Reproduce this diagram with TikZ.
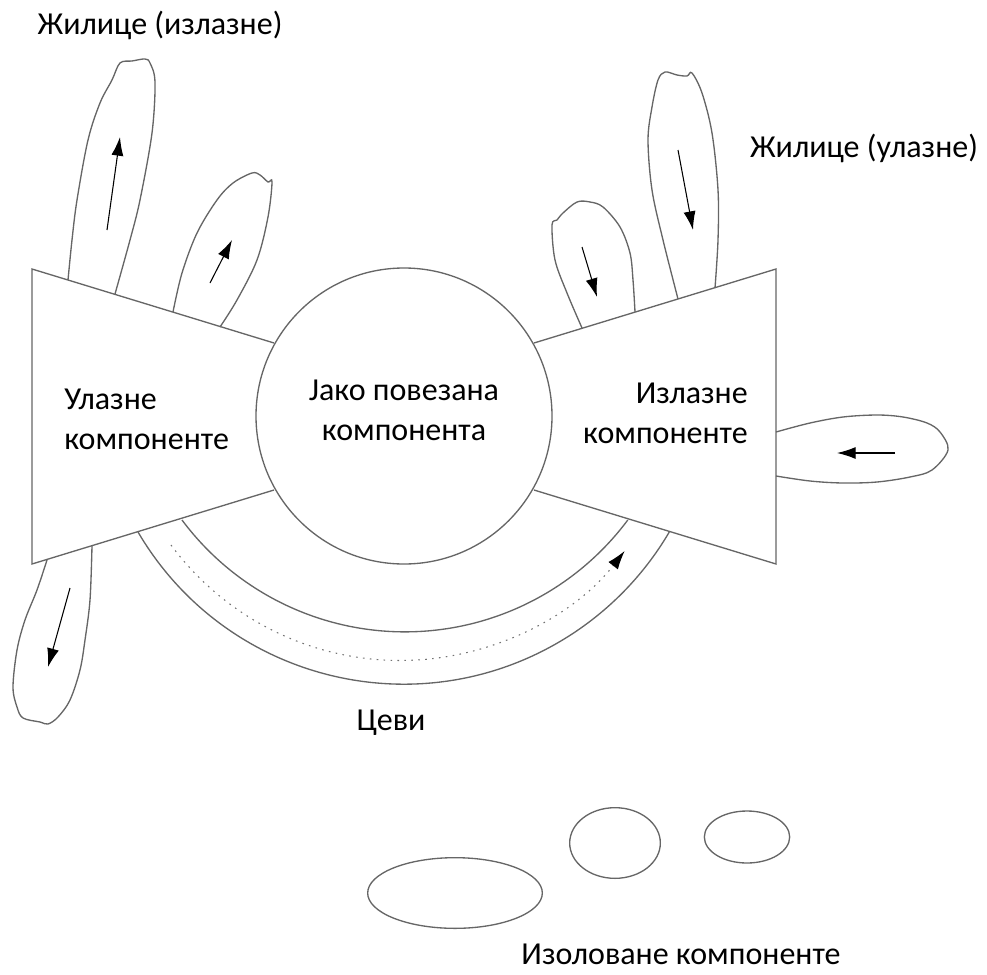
\documentclass[tikz,border=0pt]{standalone}
\usepackage{fontspec}
\setmainfont{Carlito}
\usetikzlibrary{shapes.geometric, arrows.meta, positioning}

\begin{document}
\begin{tikzpicture}[x=0.75pt, y=-0.75pt,
    line/.style={draw=black!60, line width=1pt},
    tendril/.style={line, smooth, tension=0.55},
    flow/.style={-{Latex[length=14pt,width=9pt,color=black]}, line width=0.8pt},
    word/.style={font=\fontsize{24}{30}\selectfont, inner sep=0pt},
    isle/.style={ellipse, line, inner sep=0pt}]
\useasboundingbox (0,0) rectangle (987,974);

% core and the two fans
\node[circle, line, minimum size=222pt] (scc) at (404,416) {};
\node[word, align=center] (scctext) at (404,410) {Јако повезана\\компонента};
\draw[line] (274,343) -- (32,269) -- (32,564) -- (274,490);
\draw[line] (534,343) -- (776,269) -- (776,564) -- (534,490);
\node[word, align=left, anchor=west] (in) at (64,419) {Улазне\\компоненте};
\node[word, align=right, anchor=east] (out) at (748,413) {Излазне\\компоненте};

% tendrils on the in-fan
\draw[tendril] plot coordinates {(68,280) (72,240) (77,200) (88,140) (100,103) (112,80) (120,63)
    (132,61) (145,59) (150,63) (155,82) (152,133) (140,200) (130,240) (115,294)};
\draw[flow] (107,230) -- (120,137);
\draw[tendril] plot coordinates {(173,312) (182,273) (197,233) (217,200) (233,183) (252,173)
    (260,175) (268,182) (272,182) (268,217) (257,260) (237,300) (220,327)};
\draw[flow] (210,283) -- (232,240);
\draw[tendril] plot coordinates {(47,560) (37,590) (25,620) (17,650) (13,687) (17,707) (23,718)
    (40,722) (48,724) (58,717) (70,700) (80,670) (85,640) (90,600) (92,546)};
\draw[flow] (70,588) -- (48,667);

% tendrils on the out-fan
\draw[tendril] plot coordinates {(582,328) (567,293) (555,260) (552,225) (557,220) (563,213)
    (577,202) (590,202) (603,207) (620,227) (630,253) (633,280) (635,312)};
\draw[flow] (582,247) -- (597,297);
\draw[tendril] plot coordinates {(678,299) (663,240) (652,190) (648,140) (652,107) (658,80) (665,72)
    (677,75) (687,76) (692,73) (702,93) (712,133) (718,190) (718,240) (715,288)};
\draw[flow] (678,150) -- (693,230);
\draw[tendril] plot coordinates {(776,432) (810,423) (843,417) (877,415) (903,417) (927,423) (940,432)
    (948,450) (932,470) (910,477) (877,482) (843,483) (810,481) (776,476)};
\draw[flow] (895,453) -- (837,453);

% tube
\draw[line] (182,520) arc[start angle=143.3, end angle=36.7, radius=278];
\draw[line] (138,532) arc[start angle=149.6, end angle=30.4, radius=308];
\draw[flow, draw=black!55, dash pattern=on 1.2pt off 4pt] (171,545) arc[start angle=143.5, end angle=38, radius=285];

% isolated components
\node[isle, minimum width=131pt, minimum height=53pt] (isleA) at (455,893) {};
\node[isle, minimum width=68pt, minimum height=53pt] (isleB) at (615,843) {};
\node[isle, minimum width=64pt, minimum height=39pt] (isleC) at (747,837) {};

% labels
\node[word] (outlabel) at (160,25) {Жилице (излазне)};
\node[word] (inlabel) at (864,148) {Жилице (улазне)};
\node[word] (tubes) at (391,723) {Цеви};
\node[word] (isolated) at (681,954) {Изоловане компоненте};
\end{tikzpicture}
\end{document}
